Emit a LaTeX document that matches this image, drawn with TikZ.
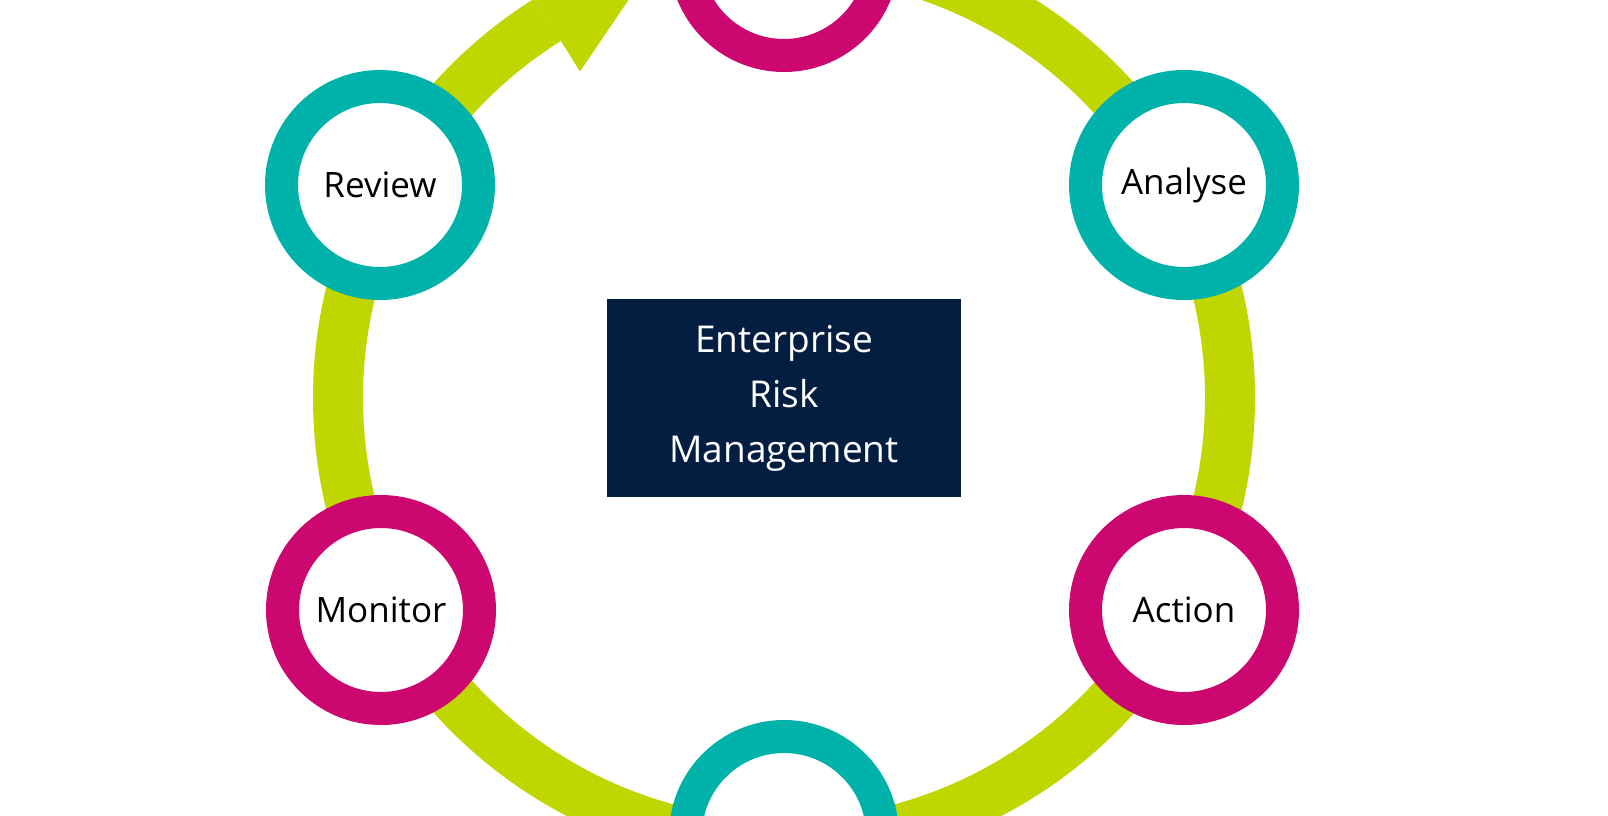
\documentclass[tikz,border=0pt]{standalone}
\usepackage{fontspec}
\setmainfont{Open Sans}
\usetikzlibrary{calc}
\definecolor{ringgreen}{HTML}{C0D600}
\definecolor{stepteal}{HTML}{00B2A9}
\definecolor{stepmagenta}{HTML}{CC0870}
\definecolor{boxnavy}{HTML}{041E42}
\tikzset{
  stage/.style={circle, draw=#1, line width=33pt, fill=white, minimum size=197pt,
    inner sep=0pt, font=\fontsize{35}{40}\selectfont},
}
\begin{document}
\begin{tikzpicture}[x=1pt, y=1pt]
    \useasboundingbox (0,0) rectangle (1608,-815);
    \coordinate (hub) at (784,-398);
    % cycle ring with its arrow
    \draw[ringgreen, line width=50pt] ($(hub)+(90:446)$) arc[start angle=90, end angle=-238, radius=446];
    \fill[ringgreen] ($(hub)+(122:385)$) -- ($(hub)+(108:446)$) -- ($(hub)+(122:507)$) -- cycle;
    % stages
    \node[stage=stepmagenta] (plan) at (784,43) {};
    \node[stage=stepteal] (review) at (380,-185) {Review};
    \node[stage=stepteal] (analyse) at (1184,-185) {Analyse};
    \node[stage=stepmagenta] (monitor) at (381,-610) {Monitor};
    \node[stage=stepmagenta] (action) at (1184,-610) {Action};
    \node[stage=stepteal] (report) at (784,-835) {};
    % centre
    \node[fill=boxnavy, text=white, minimum width=354pt, minimum height=198pt, align=center,
      font=\fontsize{37}{55}\selectfont] (erm) at (hub) {Enterprise\\Risk\\Management};
\end{tikzpicture}
\end{document}
